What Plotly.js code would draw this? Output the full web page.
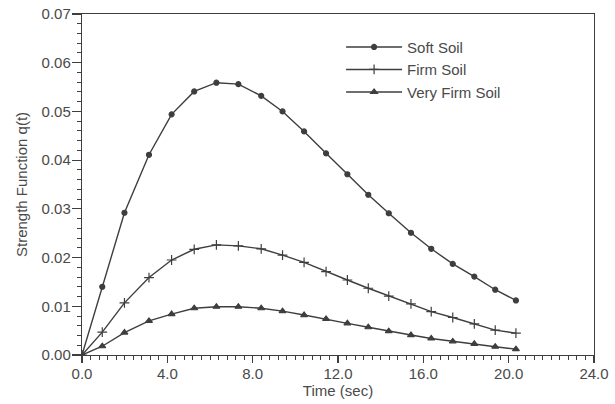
<!DOCTYPE html>
<html>
<head>
<meta charset="utf-8">
<script src="https://cdn.plot.ly/plotly-3.0.1.min.js"></script>
<style>html,body{margin:0;padding:0;background:#fff;}#chart{width:615px;height:404px;}</style>
</head>
<body>
<div id="chart"></div>
<script>
// Time values (sec)
const time = [0, 0.95, 1.99, 3.14, 4.2, 5.26, 6.3, 7.33, 8.4, 9.4, 10.41, 11.44, 12.44, 13.42, 14.38, 15.42, 16.37, 17.38, 18.39, 19.37, 20.34];
// Strength function q(t)
const softSoil = [0, 0.0140, 0.0292, 0.0411, 0.0494, 0.0541, 0.0559, 0.0556, 0.0532, 0.0500, 0.0459, 0.0414, 0.0371, 0.0329, 0.0291, 0.0251, 0.0218, 0.0187, 0.0161, 0.0134, 0.0112];
const firmSoil = [0, 0.0047, 0.0107, 0.0159, 0.0195, 0.0217, 0.0226, 0.0224, 0.0218, 0.0205, 0.0190, 0.0171, 0.0154, 0.0137, 0.0121, 0.0105, 0.0089, 0.0077, 0.0064, 0.0051, 0.0045];
const veryFirmSoil = [0, 0.0018, 0.0046, 0.0070, 0.0084, 0.0096, 0.0099, 0.0099, 0.0096, 0.0090, 0.0082, 0.0074, 0.0065, 0.0057, 0.0049, 0.0041, 0.0034, 0.0028, 0.0023, 0.0017, 0.0012];
const seriesNames = ["Soft Soil", "Firm Soil", "Very Firm Soil"];

const lineColor = "#3e3e3e";
const textColor = "#4a4a4a";
const font = "Liberation Sans, Arial, sans-serif";

function tr(y, name, symbol, size) {
  return {
    x: time, y: y, name: name, type: "scatter", mode: "lines+markers",
    line: {color: lineColor, width: 1.4},
    marker: {symbol: symbol, size: size, color: lineColor, line: {color: lineColor, width: 1.2}}
  };
}

const data = [
  tr(softSoil, seriesNames[0], "circle", 5),
  tr(firmSoil, seriesNames[1], "cross-thin", 7),
  tr(veryFirmSoil, seriesNames[2], "triangle-up", 6)
];

const layout = {
  width: 615, height: 404,
  margin: {l: 82, r: 21, t: 14, b: 49},
  paper_bgcolor: "#fff", plot_bgcolor: "#fff",
  font: {family: font, color: textColor, size: 15},
  showlegend: true,
  legend: {x: 0.506, y: 0.951, xanchor: "left", yanchor: "top", bgcolor: "rgba(0,0,0,0)",
           itemwidth: 56, font: {family: font, size: 15, color: textColor}, tracegroupgap: 0},
  xaxis: {
    range: [0, 24], dtick: 4, tick0: 0, tickformat: ".1f",
    showgrid: false, zeroline: false, showline: true, linecolor: lineColor, linewidth: 1.2, mirror: true,
    ticks: "outside", ticklen: 7, tickcolor: lineColor, tickwidth: 1.2,
    minor: {dtick: 0.4, ticks: "outside", ticklen: 4, tickcolor: lineColor, tickwidth: 1},
    tickfont: {size: 15, color: textColor}, ticklabelstandoff: -2,
    title: {text: "Time (sec)", font: {size: 15, color: textColor}, standoff: 0}
  },
  yaxis: {
    range: [0, 0.07], dtick: 0.01, tick0: 0, tickformat: ".2f",
    showgrid: false, zeroline: false, showline: true, linecolor: lineColor, linewidth: 1.2, mirror: true,
    ticks: "outside", ticklen: 9, tickcolor: lineColor, tickwidth: 1.2,
    minor: {dtick: 0.002, ticks: "outside", ticklen: 4, tickcolor: lineColor, tickwidth: 1},
    tickfont: {size: 15, color: textColor}, ticklabelstandoff: -2,
    title: {text: "Strength Function q(t)", font: {size: 15, color: textColor}, standoff: 10}
  }
};

Plotly.newPlot("chart", data, layout, {displayModeBar: false, staticPlot: true});
</script>
</body>
</html>
